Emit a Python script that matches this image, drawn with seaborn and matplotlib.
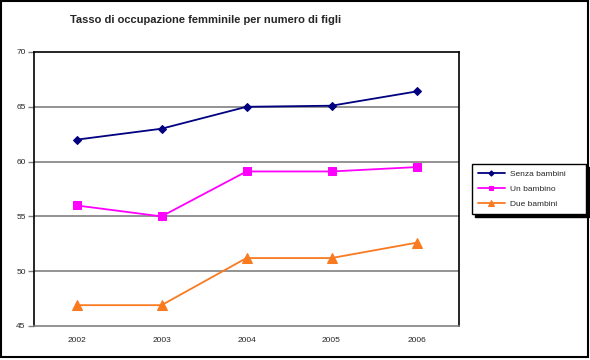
import matplotlib
matplotlib.use("Agg")
import matplotlib.pyplot as plt
import seaborn as sns
import pandas as pd
from matplotlib.patches import Rectangle

years = ["2002", "2003", "2004", "2005", "2006"]
senza = [62.0, 63.0, 65.0, 65.1, 66.4]
uno = [56.0, 55.0, 59.1, 59.1, 59.5]
due = [46.9, 46.9, 51.2, 51.2, 52.6]
series_names = ["Senza bambini", "Un bambino", "Due bambini"]
colors = ["#000080", "#FF00FF", "#F97A1F"]
markers = ["D", "s", "^"]
yticks = [45, 50, 55, 60, 65, 70]
title = "Tasso di occupazione femminile per numero di figli"

sns.set_theme(style="white")
plt.rcParams['font.family'] = ['Liberation Sans', 'DejaVu Sans']

df = pd.DataFrame({
    "anno": years * 3,
    "valore": senza + uno + due,
    "serie": [series_names[0]] * 5 + [series_names[1]] * 5 + [series_names[2]] * 5,
})

fig = plt.figure(figsize=(5.9, 3.6), dpi=100)
ax = fig.add_axes([34 / 590, 1 - 326 / 360, (459 - 34) / 590, (326 - 52) / 360])

sizes = [4.5, 5.5, 6.5]
for name, col, mk, ms in zip(series_names, colors, markers, sizes):
    sub = df[df["serie"] == name]
    sns.lineplot(data=sub, x="anno", y="valore", ax=ax, color=col, marker=mk,
                 markersize=ms, markeredgecolor=col, linewidth=1.3, label=name,
                 sort=False)

ax.set_xlim(-0.5, 4.5)
ax.set_ylim(45, 70)
ax.set_yticks(yticks)
ax.set_yticklabels([str(v) for v in yticks], fontsize=6)
ax.tick_params(axis="x", labelsize=6, length=0, pad=8)
ax.tick_params(axis="y", length=4, width=1, color="#808080", left=True, pad=2)
ax.set_xlabel("")
ax.set_ylabel("")
for v in yticks[1:-1]:
    ax.axhline(v, color="#808080", linewidth=1.2, zorder=0)
for s in ax.spines.values():
    s.set_color("black")
    s.set_linewidth(1.2)
ax.spines["bottom"].set_color("#808080")

fig.text(206 / 590, 1 - 20 / 360, title, ha="center", va="center",
         fontsize=8, fontweight="bold")

# legend with shadow
leg = ax.legend(loc="upper left",
                bbox_to_anchor=(472 / 590, 1 - 213 / 360, 114 / 590, 49 / 360),
                bbox_transform=fig.transFigure, mode="expand", fontsize=6,
                frameon=True, fancybox=False,
                shadow={"color": "black", "alpha": 1},
                edgecolor="black", handlelength=3.2, borderpad=0.7,
                labelspacing=0.9, borderaxespad=0, markerscale=0.6,
                handletextpad=0.6)
leg.get_frame().set_linewidth(1.0)

# figure border
fig.patches.append(Rectangle((0.001, 3 / 360), 0.996, 0.996 - 3 / 360,
                             transform=fig.transFigure, fill=False,
                             edgecolor="black", linewidth=1.5))

fig.savefig("out.png", dpi=100)
